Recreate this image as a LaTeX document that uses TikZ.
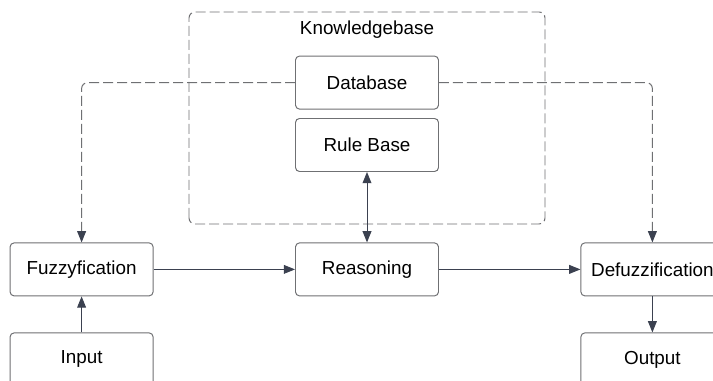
\documentclass[tikz,border=0pt]{standalone}
\usepackage{fontspec}
\setmainfont{Liberation Sans}
\usetikzlibrary{arrows.meta}

\definecolor{boxline}{HTML}{6F7073}
\definecolor{tipcol}{HTML}{3B4150}

\begin{document}
\begin{tikzpicture}[
    block/.style={rectangle, rounded corners=0.1cm, draw=boxline, line width=0.7pt, fill=white,
        minimum width=3.575cm, minimum height=1.325cm, font=\fontsize{13.4}{16}\selectfont},
    flow/.style={draw=tipcol, line width=0.7pt, -{Triangle[length=0.28cm,width=0.22cm,color=tipcol]}},
    kbline/.style={draw=boxline, line width=0.7pt, dash pattern=on 0.25cm off 0.1cm}
]
    \useasboundingbox[fill=white] (0, 0) rectangle (17.825, 9.525);

    % knowledge base frame
    \draw[kbline, rounded corners=0.15cm] (4.725, 3.925) rectangle (13.625, 9.225);
    \node[font=\fontsize{13.4}{16}\selectfont] (kb) at (9.175, 8.775) {Knowledgebase};

    \node[block] (db)  at (9.175, 7.46) {Database};
    \node[block] (rb)  at (9.175, 5.9)  {Rule Base};
    \node[block] (fz)  at (2.04, 2.79)  {Fuzzyfication};
    \node[block] (rs)  at (9.175, 2.79) {Reasoning};
    \node[block] (dfz) at (16.31, 2.79) {Defuzzification};
    \node[block] (in)  at (2.04, 0.54)  {Input};
    \node[block] (out) at (16.31, 0.54) {Output};

    % dashed links from the database
    \draw[flow, kbline, rounded corners=0.15cm] (db.west) -| (fz.north);
    \draw[flow, kbline, rounded corners=0.15cm] (db.east) -| (dfz.north);

    \draw[flow, {Triangle[length=0.28cm,width=0.22cm]}-{Triangle[length=0.28cm,width=0.22cm]}] (rb) -- (rs);
    \draw[flow] (in) -- (fz);
    \draw[flow] (fz) -- (rs);
    \draw[flow] (rs) -- (dfz);
    \draw[flow] (dfz) -- (out);
\end{tikzpicture}
\end{document}
